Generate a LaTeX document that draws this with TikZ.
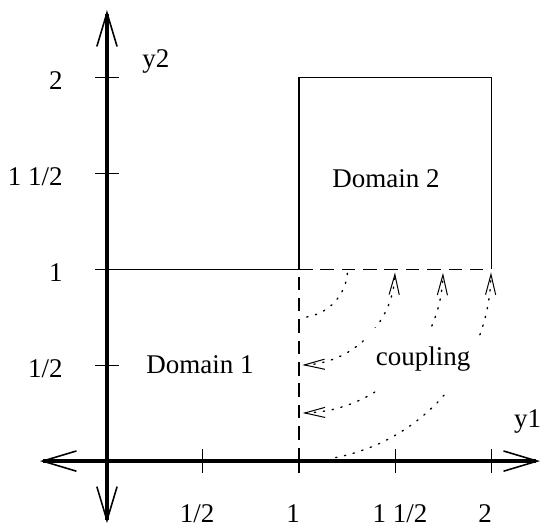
\documentclass[tikz,border=0pt]{standalone}
\usepackage{fontspec}
\setmainfont{Liberation Serif}
\usetikzlibrary{arrows.meta}
\begin{document}
\begin{tikzpicture}[x=3cm,y=3cm,font=\fontsize{12}{14}\selectfont,
  axis/.style={line width=1.8pt,>={Straight Barb[length=15pt,width=9pt,line width=0.7pt]}},
  thin/.style={line width=0.45pt},
  iface/.style={line width=0.45pt,dash pattern=on 6pt off 3.5pt},
  couple/.style={line width=0.6pt,dash pattern=on 0.6pt off 3.4pt,line cap=round,
    >={Straight Barb[length=9pt,width=4.5pt,line width=0.45pt]}}]
\useasboundingbox (-0.557,-0.333) rectangle (2.281,2.401);
\draw[axis,<->] (-0.349,0)--(2.255,0);
\draw[axis,<->] (0,-0.323)--(0,2.349);
\foreach \t in {0.5,1,1.5,2} {
  \draw[thin] (\t,-0.0625)--(\t,0.0625);
  \draw[thin] (-0.0625,\t)--(0.0625,\t);
}
\node[anchor=base] (x1) at (0.469,-0.318) {1/2};
\node[anchor=base] (x2) at (0.969,-0.318) {1};
\node[anchor=base] (x3) at (1.526,-0.318) {1 1/2};
\node[anchor=base] (x4) at (1.969,-0.318) {2};
\node[anchor=base east] (y1) at (-0.19,0.435) {1/2};
\node[anchor=base east] (y2) at (-0.19,0.935) {1};
\node[anchor=base east] (y3) at (-0.19,1.435) {1 1/2};
\node[anchor=base east] (y4) at (-0.19,1.935) {2};
\node[anchor=base] (ylab) at (0.255,2.047) {y2};
\node[anchor=base] (xlab) at (2.19,0.177) {y1};
\coordinate (c) at (1,1);
\draw[thin] (0,1)--(c)--(1,2)--(2,2)--(2,1);
\draw[iface] (c)--(2,1);
\draw[iface] (1,0)--(c);
\draw[couple] (c) ++(-5:0.253) arc[start angle=-5,end angle=-81,radius=0.253];
\draw[couple,<->] (c) ++(-88:0.5) arc[start angle=-88,end angle=-2,radius=0.5];
\draw[couple,<->] (c) ++(-88.5:0.75) arc[start angle=-88.5,end angle=-1.5,radius=0.75];
\draw[couple,->] (c) ++(-79:1) arc[start angle=-79,end angle=-1,radius=1];
\node[fill=white,minimum width=1.72cm,minimum height=0.97cm,inner sep=0pt] (cpl) at (1.646,0.531) {coupling};
\node[anchor=base] (d2) at (1.453,1.427) {Domain 2};
\node (d1) at (0.484,0.5) {Domain 1};
\end{tikzpicture}
\end{document}
